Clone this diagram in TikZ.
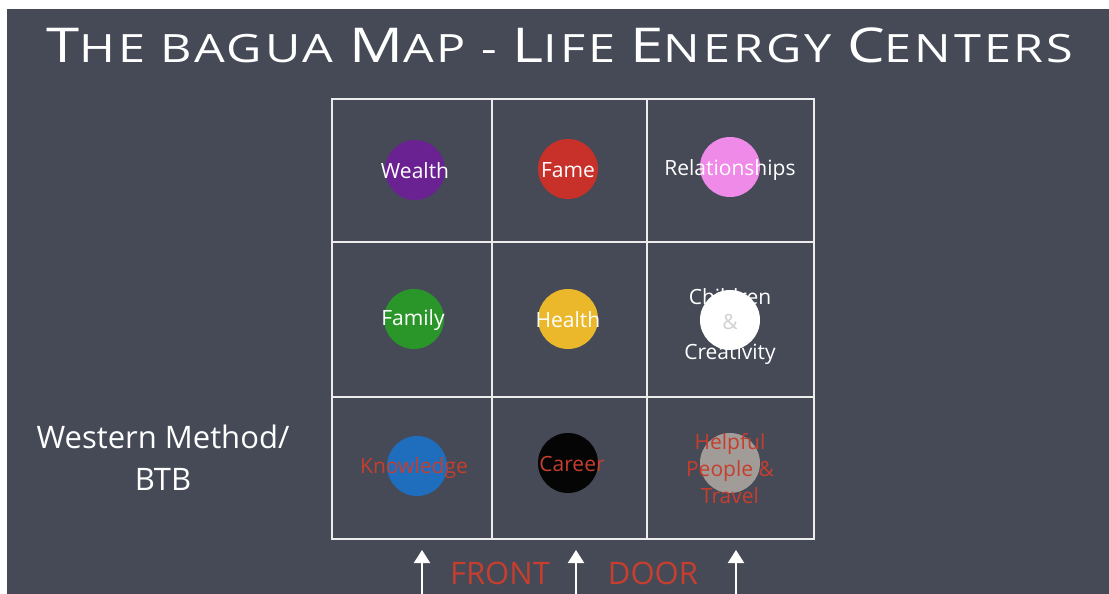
\documentclass[tikz,border=0pt]{standalone}
\usepackage{fontspec}
\setmainfont{Open Sans}
\usetikzlibrary{arrows.meta}
\definecolor{board}{HTML}{454A56}
\definecolor{chalk}{HTML}{ECECEC}
\definecolor{redtxt}{HTML}{C63E2E}
\definecolor{cwealth}{HTML}{6A2293}
\definecolor{cfame}{HTML}{C8302A}
\definecolor{crel}{HTML}{F08AE8}
\definecolor{cfamily}{HTML}{2A962A}
\definecolor{chealth}{HTML}{EAB82A}
\definecolor{cchild}{HTML}{FFFFFF}
\definecolor{cknow}{HTML}{1F6EBE}
\definecolor{ccareer}{HTML}{050505}
\definecolor{chelp}{HTML}{A29C98}
\newcommand{\titlecap}[1]{{\fontsize{48}{48}\selectfont #1}}
\tikzset{
  cell/.style={draw=chalk, line width=2pt, inner sep=0pt},
  dot/.style={circle, minimum size=60pt, inner sep=0pt},
  lab/.style={text=white, font=\fontsize{21}{21}\selectfont, inner sep=0pt},
  redlab/.style={text=redtxt, font=\fontsize{21}{27}\selectfont, inner sep=0pt, align=center},
  doorarrow/.style={draw=white, line width=2pt, -{Triangle[width=16pt,length=13pt]}},
}
\begin{document}
\begin{tikzpicture}[x=1pt,y=-1pt]
\useasboundingbox (0,0) rectangle (1109,594);
\fill[white] (0,0) rectangle (1109,594);
\fill[board] (7,9) rectangle (1109,594);
% title
\node[text=white, inner sep=0pt, font=\fontsize{39}{39}\selectfont\addfontfeature{LetterSpace=6}] (title) at (560,45)
  {\scalebox{1.245}[1]{\titlecap{T}HE BAGUA \titlecap{M}AP - \titlecap{L}IFE \titlecap{E}NERGY \titlecap{C}ENTERS}};
% grid cells
\node[cell, minimum width=160pt, minimum height=143pt] (c11) at (412,170.5) {};
\node[cell, minimum width=155pt, minimum height=143pt] (c12) at (569.5,170.5) {};
\node[cell, minimum width=167pt, minimum height=143pt] (c13) at (730.5,170.5) {};
\node[cell, minimum width=160pt, minimum height=155pt] (c21) at (412,319.5) {};
\node[cell, minimum width=155pt, minimum height=155pt] (c22) at (569.5,319.5) {};
\node[cell, minimum width=167pt, minimum height=155pt] (c23) at (730.5,319.5) {};
\node[cell, minimum width=160pt, minimum height=142pt] (c31) at (412,468) {};
\node[cell, minimum width=155pt, minimum height=142pt] (c32) at (569.5,468) {};
\node[cell, minimum width=167pt, minimum height=142pt] (c33) at (730.5,468) {};
% circles
\node[dot, fill=cwealth] (wealth) at (415,170) {};
\node[dot, fill=cfame] (fame) at (568,169) {};
\node[dot, fill=crel] (rel) at (730,167) {};
\node[dot, fill=cfamily] (family) at (414,319) {};
\node[dot, fill=chealth] (health) at (568,319) {};
\node[dot, fill=cchild] (child) at (730,320) {};
\node[dot, fill=cknow] (know) at (417,466) {};
\node[dot, fill=ccareer] (career) at (568,463) {};
\node[dot, fill=chelp] (help) at (730,463) {};
% labels
\node[lab] (wealthL) at (415,171) {Wealth};
\node[lab] (fameL) at (568,170) {Fame};
\node[lab] (relL) at (730,170) {Relationships};
\node[lab] (familyL) at (413,320) {Family};
\node[lab] (healthL) at (568,320) {Health};
\node[lab] (childL) at (730,297) {Children};
\node[lab, text=black!18] (ampL) at (730,322) {\&};
\node[lab] (creatL) at (730,354) {Creativity};
\node[redlab] (knowL) at (414,468) {Knowledge};
\node[redlab] (careerL) at (572,464) {Career};
\node[redlab] (helpL) at (730,469) {Helpful\\People \&\\Travel};
% side text
\node[text=white, inner sep=0pt, align=center, font=\fontsize{31}{42}\selectfont] (west) at (163,458) {Western Method/\\BTB};
% front door
\node[text=redtxt, inner sep=0pt, font=\fontsize{31}{31}\selectfont] (front) at (500,573) {FRONT};
\node[text=redtxt, inner sep=0pt, font=\fontsize{31}{31}\selectfont] (door) at (653,573) {DOOR};
\coordinate (a1s) at (422,594); \coordinate (a1e) at (422,550);
\coordinate (a2s) at (576,594); \coordinate (a2e) at (576,550);
\coordinate (a3s) at (736,594); \coordinate (a3e) at (736,550);
\draw[doorarrow] (a1s) -- (a1e);
\draw[doorarrow] (a2s) -- (a2e);
\draw[doorarrow] (a3s) -- (a3e);
\end{tikzpicture}
\end{document}
